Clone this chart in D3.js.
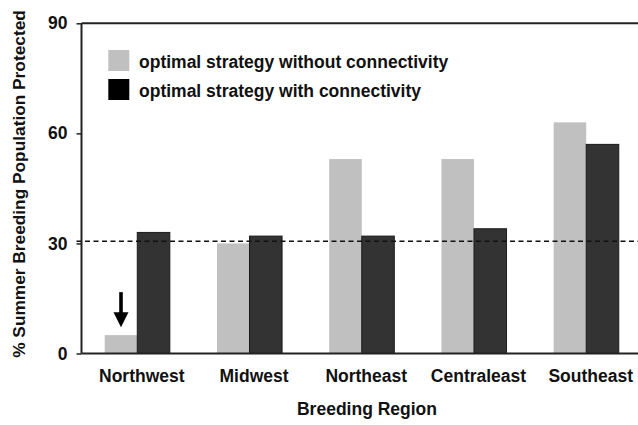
<!DOCTYPE html>
<html>
<head>
<meta charset="utf-8">
<script src="https://cdn.jsdelivr.net/npm/d3@7"></script>
<style>
  html, body { margin: 0; padding: 0; background: #fff; }
  svg { display: block; }
  text { font-family: "Liberation Sans", Arial, sans-serif; font-weight: bold; fill: #111; }
</style>
</head>
<body>
<svg id="chart" width="638" height="425"></svg>
<script>
const regions = ["Northwest", "Midwest", "Northeast", "Centraleast", "Southeast"];
const withoutConnectivity = [5, 30, 53, 53, 63];
const withConnectivity = [33, 32, 32, 34, 57];
const seriesNames = ["optimal strategy without connectivity", "optimal strategy with connectivity"];
const yTicks = [0, 30, 60, 90];
const threshold = 30.6;
const arrowRegion = "Northwest";

const svg = d3.select("#chart");
const margin = { left: 81.5, top: 23.3, bottom: 353.5 };
const plotRight = 642;

const x = d3.scaleBand().domain(regions).range([margin.left, plotRight])
  .paddingInner(0.42).paddingOuter(0.207);
const sub = d3.scaleBand().domain([0, 1]).range([0, x.bandwidth()]);
const y = d3.scaleLinear().domain([0, 90]).range([margin.bottom, margin.top]);

const colors = ["#c0c0c0", "#333333"];
const data = regions.map((r, i) => ({ region: r, values: [withoutConnectivity[i], withConnectivity[i]] }));

// bars
const g = svg.append("g");
data.forEach(d => {
  d.values.forEach((v, k) => {
    g.append("rect")
      .attr("x", x(d.region) + sub(k))
      .attr("y", y(v))
      .attr("width", sub.bandwidth())
      .attr("height", y(0) - y(v))
      .attr("fill", colors[k])
      .attr("stroke", k === 1 ? "#1a1a1a" : "none")
      .attr("stroke-width", 1);
  });
});

// threshold dashed line
svg.append("line")
  .attr("x1", margin.left - 5).attr("x2", 638)
  .attr("y1", y(threshold)).attr("y2", y(threshold))
  .attr("stroke", "#111").attr("stroke-width", 1.6)
  .attr("stroke-dasharray", "5,3.5");

// frame: top border
svg.append("line")
  .attr("x1", margin.left).attr("x2", 638)
  .attr("y1", y(90)).attr("y2", y(90))
  .attr("stroke", "#222").attr("stroke-width", 2);

// y axis
const yAxis = d3.axisLeft(y).tickValues(yTicks).tickSize(5).tickPadding(9).tickFormat(d3.format("d"));
const ya = svg.append("g").attr("transform", `translate(${margin.left},0)`).call(yAxis);
ya.select(".domain").attr("stroke", "#222").attr("stroke-width", 2).attr("d", `M0,${y(90)}V${y(0)}`);
ya.selectAll(".tick line").attr("stroke", "#222").attr("stroke-width", 1.5);
ya.selectAll(".tick text").style("font-size", "17.5px").attr("fill", "#111")
  .style("font-family", "'Liberation Sans', Arial, sans-serif").style("font-weight", "bold");

// x axis
const xAxis = d3.axisBottom(x).tickSize(0).tickPadding(16);
const xa = svg.append("g").attr("transform", `translate(0,${y(0)})`).call(xAxis);
xa.select(".domain").attr("stroke", "#222").attr("stroke-width", 2).attr("d", `M${margin.left},0H638`);
xa.selectAll(".tick text").style("font-size", "17.5px").attr("fill", "#111").attr("dx", 4.5)
  .style("font-family", "'Liberation Sans', Arial, sans-serif").style("font-weight", "bold");

// arrow annotation above the Northwest "without" bar
const ax = x(arrowRegion) + sub(0) + sub.bandwidth() / 2;
const aTip = y(withoutConnectivity[regions.indexOf(arrowRegion)]) - 8;
svg.append("rect").attr("x", ax - 1.8).attr("y", aTip - 35).attr("width", 3.6).attr("height", 22).attr("fill", "#000");
svg.append("path").attr("d", `M${ax - 7.5},${aTip - 15}L${ax + 7.5},${aTip - 15}L${ax},${aTip}Z`).attr("fill", "#000");

// legend
const legend = svg.append("g");
seriesNames.forEach((name, k) => {
  const ly = 50 + k * 29;
  legend.append("rect").attr("x", 108.3).attr("y", ly).attr("width", 21).attr("height", 21)
    .attr("fill", k === 0 ? colors[0] : "#000");
  legend.append("text").attr("x", 139).attr("y", ly + 17.5).style("font-size", "17.5px").text(name);
});

// axis titles
svg.append("text").attr("x", 367).attr("y", 415).attr("text-anchor", "middle")
  .style("font-size", "17.5px").text("Breeding Region");
svg.append("text").attr("transform", `translate(25,${(358 + 10) / 2}) rotate(-90)`)
  .attr("text-anchor", "middle").style("font-size", "17.3px").text("% Summer Breeding Population Protected");
</script>
</body>
</html>
